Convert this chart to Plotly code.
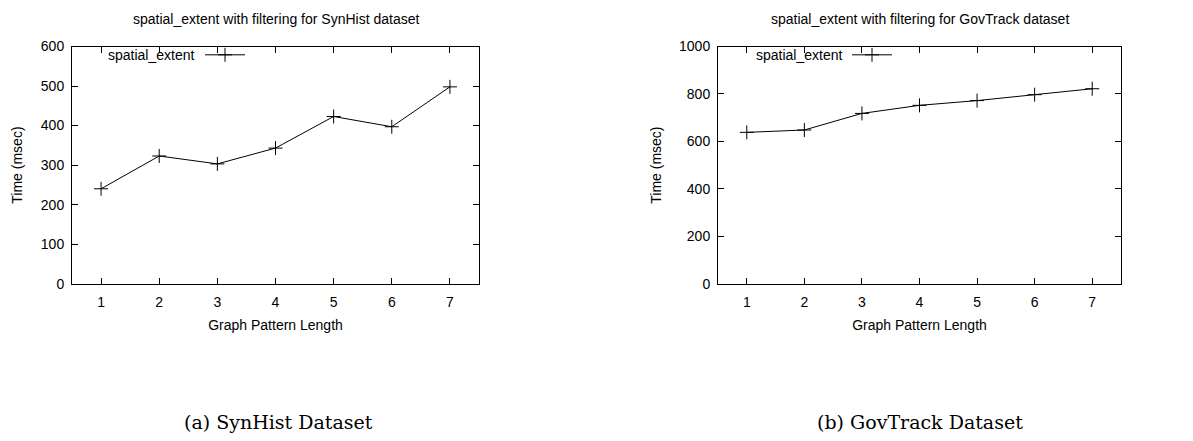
import plotly.graph_objects as go

pattern_length = [1, 2, 3, 4, 5, 6, 7]
synhist_time = [240, 323, 303, 343, 423, 397, 498]
govtrack_time = [638, 648, 718, 752, 772, 797, 822]
series_name = "spatial_extent"
titles = ["spatial_extent with filtering for SynHist dataset",
          "spatial_extent with filtering for GovTrack dataset"]
captions = ["(a) SynHist Dataset", "(b) GovTrack Dataset"]
x_title = "Graph Pattern Length"
y_title = "Time (msec)"

W, H = 1193, 441
FONT = "Liberation Sans, Arial, sans-serif"
FS = 14

fig = go.Figure()
marker = dict(symbol="cross-thin", size=10, color="black", line=dict(width=1, color="black"))
fig.add_trace(go.Scatter(x=pattern_length, y=synhist_time, mode="lines+markers", name=series_name,
                         line=dict(color="black", width=1), marker=marker,
                         xaxis="x", yaxis="y", legend="legend"))
fig.add_trace(go.Scatter(x=pattern_length, y=govtrack_time, mode="lines+markers", name=series_name,
                         line=dict(color="black", width=1), marker=marker,
                         xaxis="x2", yaxis="y2", legend="legend2"))

def px_x(p):
    return p / W

def px_y(p):
    return 1 - p / H

ydom = [px_y(286), px_y(40)]
axis_common = dict(showline=True, linecolor="black", linewidth=1, mirror="ticks",
                   ticks="inside", ticklen=6, tickcolor="black", tickwidth=1,
                   showgrid=False, zeroline=False,
                   tickfont=dict(family=FONT, size=FS, color="black"))

fig.update_layout(
    width=W, height=H, margin=dict(l=0, r=0, t=0, b=0),
    paper_bgcolor="white", plot_bgcolor="white",
    font=dict(family=FONT, size=FS, color="black"),
    xaxis=dict(domain=[px_x(72), px_x(479)], range=[0.5, 7.5], tickvals=pattern_length,
               anchor="y", title=dict(text=x_title, standoff=10, font=dict(size=FS)),
               ticklabelstandoff=6, **axis_common),
    yaxis=dict(domain=ydom, range=[0, 600], dtick=100, anchor="x",
               title=dict(text=y_title, standoff=14, font=dict(size=FS)),
               ticklabelstandoff=4, **axis_common),
    xaxis2=dict(domain=[px_x(718), px_x(1121)], range=[0.5, 7.5], tickvals=pattern_length,
                anchor="y2", title=dict(text=x_title, standoff=10, font=dict(size=FS)),
                ticklabelstandoff=6, **axis_common),
    yaxis2=dict(domain=ydom, range=[0, 1000], dtick=200, anchor="x2",
                title=dict(text=y_title, standoff=14, font=dict(size=FS)),
                ticklabelstandoff=4, **axis_common),
    legend=dict(x=px_x(200), y=px_y(49), xanchor="left", yanchor="middle",
                bgcolor="rgba(0,0,0,0)", itemwidth=40,
                font=dict(color="rgba(0,0,0,0)", size=FS)),
    legend2=dict(x=px_x(847), y=px_y(49), xanchor="left", yanchor="middle",
                 bgcolor="rgba(0,0,0,0)", itemwidth=40,
                 font=dict(color="rgba(0,0,0,0)", size=FS)),
    showlegend=True,
)

annotations = []
for t, cx in zip(titles, [275.5, 919.5]):
    annotations.append(dict(text=t, x=px_x(cx), y=px_y(11), xref="paper", yref="paper",
                            showarrow=False, xanchor="center", yanchor="middle",
                            font=dict(family=FONT, size=FS, color="black")))
for lx in [197, 845]:
    annotations.append(dict(text=series_name, x=px_x(lx), y=px_y(49), xref="paper", yref="paper",
                            showarrow=False, xanchor="right", yanchor="middle",
                            font=dict(family=FONT, size=FS, color="black")))
for c, cx in zip(captions, [278, 920]):
    annotations.append(dict(text=c, x=px_x(cx), y=px_y(430), xref="paper", yref="paper",
                            showarrow=False, xanchor="center", yanchor="middle",
                            font=dict(family="DejaVu Serif, serif", size=19, color="black")))
fig.update_layout(annotations=annotations)

fig.write_html("out.html", config={"displayModeBar": False},
               post_script="document.body.style.margin='0px';")
